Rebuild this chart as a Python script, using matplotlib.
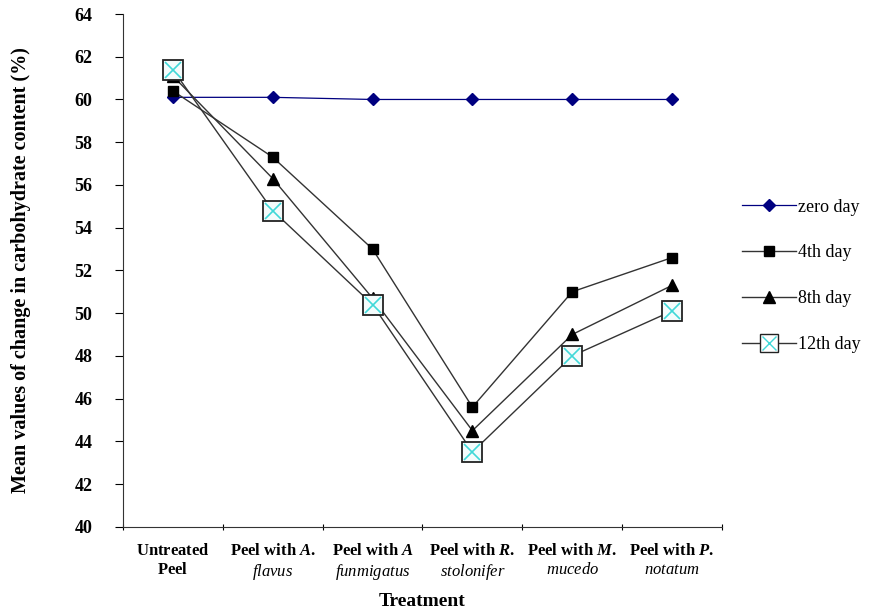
import matplotlib
matplotlib.use("Agg")
import matplotlib.pyplot as plt
from matplotlib.legend_handler import HandlerTuple
import numpy as np

plt.rcParams['font.family'] = 'Liberation Serif'
plt.rcParams['mathtext.fontset'] = 'custom'
plt.rcParams['mathtext.rm'] = 'Liberation Serif:bold'
plt.rcParams['mathtext.it'] = 'Liberation Serif:italic:bold'
plt.rcParams['mathtext.sf'] = 'Liberation Serif:italic'

treatments = [
    r"$\mathrm{Untreated}$" + "\n" + r"$\mathrm{Peel}$",
    r"$\mathrm{Peel\ with}\ \mathit{A.}$" + "\n" + r"$\mathsf{flavus}$",
    r"$\mathrm{Peel\ with}\ \mathit{A}$" + "\n" + r"$\mathsf{funmigatus}$",
    r"$\mathrm{Peel\ with}\ \mathit{R.}$" + "\n" + r"$\mathsf{stolonifer}$",
    r"$\mathrm{Peel\ with}\ \mathit{M.}$" + "\n" + r"$\mathsf{mucedo}$",
    r"$\mathrm{Peel\ with}\ \mathit{P.}$" + "\n" + r"$\mathsf{notatum}$",
]
zero_day = [60.1, 60.1, 60.0, 60.0, 60.0, 60.0]
day4 = [60.4, 57.3, 53.0, 45.6, 51.0, 52.6]
day8 = [61.1, 56.3, 50.7, 44.5, 49.0, 51.3]
day12 = [61.4, 54.8, 50.4, 43.5, 48.0, 50.1]

x = np.arange(len(treatments))

fig = plt.figure(figsize=(8.72, 6.09), dpi=100)
ax = fig.add_axes([0.141, 0.135, 0.687, 0.842])

lc = '#333333'
h0, = ax.plot(x, zero_day, color='#000080', marker='D', markersize=6, lw=0.9, label='zero day')
h4, = ax.plot(x, day4, color=lc, marker='s', markerfacecolor='black', markeredgecolor='black',
              markersize=7, lw=1, label='4th day')
h8, = ax.plot(x, day8, color=lc, marker='^', markerfacecolor='black', markeredgecolor='black',
              markersize=8, lw=1, label='8th day')
h12, = ax.plot(x, day12, color=lc, marker='s', markerfacecolor='#f4fcfc', markeredgecolor='#222222',
               markersize=15, markeredgewidth=1.3, lw=1)
h12x, = ax.plot(x, day12, linestyle='None', marker='x', color='#40d8d8', markersize=11,
                markeredgewidth=1.2)

ax.set_xlim(-0.5, len(treatments) - 0.5)
ax.set_ylim(40, 64)
ax.set_yticks(np.arange(40, 65, 2))
ax.set_xticks(np.arange(-0.5, len(treatments), 1.0))
ax.set_xticklabels([])
ax.set_xticks(x, minor=True)
ax.set_xticklabels(treatments, minor=True, fontsize=12)
ax.tick_params(axis='x', which='minor', length=0, pad=12)
ax.tick_params(axis='x', which='major', length=4, direction='inout')
ax.tick_params(axis='y', length=6, direction='out', labelsize=13, pad=16)
for lab in ax.get_yticklabels():
    lab.set_fontweight('bold')
for s in ['top', 'right']:
    ax.spines[s].set_visible(False)
for s in ['left', 'bottom']:
    ax.spines[s].set_color('#333333')

ax.set_xlabel('Treatment', fontsize=14, fontweight='bold', labelpad=8)
ax.set_ylabel('Mean values of change in carbohydrate content (%)', fontsize=14.5,
              fontweight='bold', labelpad=31)

h12_marker = plt.Line2D([], [], color=lc, marker='s', markerfacecolor='white',
                        markeredgecolor='#222222', markersize=13, lw=1)
h12_x = plt.Line2D([], [], linestyle='None', marker='x', color='#40d8d8', markersize=10)
fig.legend([h0, h4, h8, (h12_marker, h12_x)], ['zero day', '4th day', '8th day', '12th day'],
           handler_map={tuple: HandlerTuple(ndivide=1, pad=0)},
           loc='center left', bbox_to_anchor=(0.832, 0.547), frameon=False,
           fontsize=13, labelspacing=1.6, handlelength=3.0, handletextpad=0.1)

fig.savefig('out.png', dpi=100)
